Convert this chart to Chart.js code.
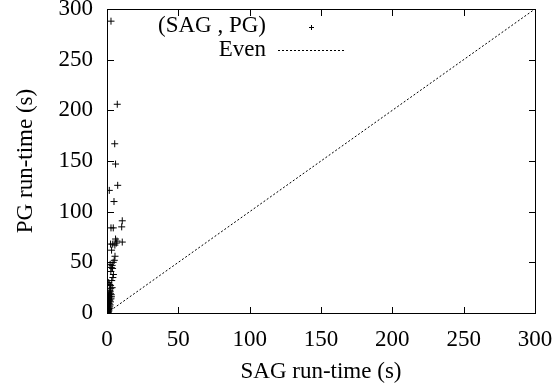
<!DOCTYPE html>
<html>
<head>
<meta charset="utf-8">
<script src="https://cdn.jsdelivr.net/npm/chart.js@4.4.1/dist/chart.umd.min.js"></script>
<style>
  html, body { margin: 0; padding: 0; background: #fff; }
  #wrap { width: 560px; height: 391px; }
</style>
</head>
<body>
<div id="wrap"><canvas id="c" width="560" height="391"></canvas></div>
<script>
// SAG vs PG run-times (seconds)
const sagTimes = [2.8, 7.2, 5.4, 6.0, 7.5, 1.6, 4.9, 10.7, 10.3, 2.8, 4.4, 6.0, 7.0, 10.7, 2.5, 4.0, 5.5,
    5.6, 4.3, 2.2, 3.6, 3.0, 4.5, 3.3, 2.5, 3.6, 2.0, 1.5, 2.5, 3.0, 1.0, 2.0, 1.2, 2.8, 0.8, 1.8, 2.4,
    1.0, 1.5, 2.2, 0.6, 1.3, 1.9, 0.5, 1.1, 1.6, 0.4, 0.9, 1.4, 0.3, 0.7, 1.2, 0.2, 0.5, 0.9, 0.1, 0.3,
    0.6, 2.0, 1.7, 2.2, 0.9, 1.3, 3.1, 2.6, 1.9, 4.1, 2.7, 3.9, 5.1, 6.5, 1.2, 3.2];
const pgTimes = [288, 206, 167, 147, 126, 121, 110, 91, 85, 84, 84, 73, 71, 70, 68, 68, 67,
    56, 50, 48, 47, 45, 38, 32, 27, 25, 22, 20, 19, 18, 17, 16, 15, 14, 13, 12, 11,
    10, 9, 8, 8, 7, 6, 6, 5, 4.5, 4, 3.5, 3, 2.5, 2, 1.8, 1.5, 1, 0.8, 0.5, 0.3,
    0.2, 13, 18, 21, 11, 9.5, 16, 24, 28, 35, 41, 44, 52, 69, 30, 62];
const evenLine = [0, 300];
const xTicks = [0, 50, 100, 150, 200, 250, 300];
const yTicks = [0, 50, 100, 150, 200, 250, 300];

const FONT = '"Liberation Serif", "Times New Roman", serif';
const FSIZE = 23;

// gnuplot style frame: full border + inward ticks on all four sides, plus the key
// (edges taken from the scales themselves)
const framePlugin = {
    id: 'gpframe',
    afterDraw(chart) {
        const ctx = chart.ctx;
        const sx = chart.scales.x, sy = chart.scales.y;
        const L = Math.round(sx.getPixelForValue(0)), R = Math.round(sx.getPixelForValue(300));
        const T = Math.round(sy.getPixelForValue(300)), B = Math.round(sy.getPixelForValue(0));
        ctx.save();
        ctx.fillStyle = '#000';
        ctx.fillRect(L, T, R - L + 1, 1);
        ctx.fillRect(L, B, R - L + 1, 1);
        ctx.fillRect(L, T, 1, B - T + 1);
        ctx.fillRect(R, T, 1, B - T + 1);
        xTicks.forEach(v => {
            const px = Math.round(sx.getPixelForValue(v));
            ctx.fillRect(px, B - 6, 1, 6);
            ctx.fillRect(px, T + 1, 1, 6);
        });
        yTicks.forEach(v => {
            const py = Math.round(sy.getPixelForValue(v));
            ctx.fillRect(L + 1, py, 6, 1);
            ctx.fillRect(R - 6, py, 6, 1);
        });

        // key: text right aligned, then sample
        ctx.font = FSIZE + 'px ' + FONT;
        ctx.textAlign = 'right';
        ctx.textBaseline = 'middle';
        ctx.fillText('(SAG , PG)', 266, 26);
        ctx.fillText('Even', 266, 50);
        ctx.fillRect(309, 27, 5, 1);
        ctx.fillRect(311, 25, 1, 5);
        for (let x = 278; x < 343; x += 4) {
            ctx.fillRect(x, 50, 2, 1);
        }
        ctx.restore();
    }
};

new Chart(document.getElementById('c').getContext('2d'), {
    type: 'scatter',
    data: {
        datasets: [{
            label: '(SAG , PG)',
            data: sagTimes.map((s, i) => ({ x: s, y: pgTimes[i] })),
            pointStyle: 'cross',
            pointRadius: 3.5,
            borderColor: '#000',
            backgroundColor: '#000',
            borderWidth: 1
        }, {
            label: 'Even',
            type: 'line',
            data: evenLine.map(v => ({ x: v, y: v })),
            borderColor: '#000',
            borderWidth: 1,
            borderDash: [2, 2],
            pointRadius: 0,
            fill: false
        }]
    },
    plugins: [framePlugin],
    options: {
        responsive: false,
        animation: false,
        layout: { padding: { left: 0, right: 25, top: 9, bottom: 0 } },
        plugins: {
            legend: { display: false },
            tooltip: { enabled: false }
        },
        scales: {
            x: {
                type: 'linear',
                min: 0, max: 300,
                afterBuildTicks: s => { s.ticks = xTicks.map(v => ({ value: v })); },
                afterFit: s => { s.height = 78; s.paddingLeft = 0; s.paddingRight = 0; },
                grid: { display: false, drawTicks: false },
                border: { display: false },
                ticks: { color: '#000', padding: 13, maxRotation: 0, font: { family: FONT, size: FSIZE } },
                title: { display: true, text: 'SAG run-time (s)', color: '#000', padding: { top: 0, bottom: 5 }, font: { family: FONT, size: FSIZE } }
            },
            y: {
                type: 'linear',
                min: 0, max: 300,
                afterBuildTicks: s => { s.ticks = yTicks.map(v => ({ value: v })); },
                afterFit: s => { s.width = 107; s.paddingTop = 0; s.paddingBottom = 0; },
                grid: { display: false, drawTicks: false },
                border: { display: false },
                ticks: { color: '#000', padding: 14, font: { family: FONT, size: FSIZE } },
                title: { display: true, text: 'PG run-time (s)', color: '#000', padding: { top: 12, bottom: 0 }, font: { family: FONT, size: FSIZE } }
            }
        }
    }
});
</script>
</body>
</html>
